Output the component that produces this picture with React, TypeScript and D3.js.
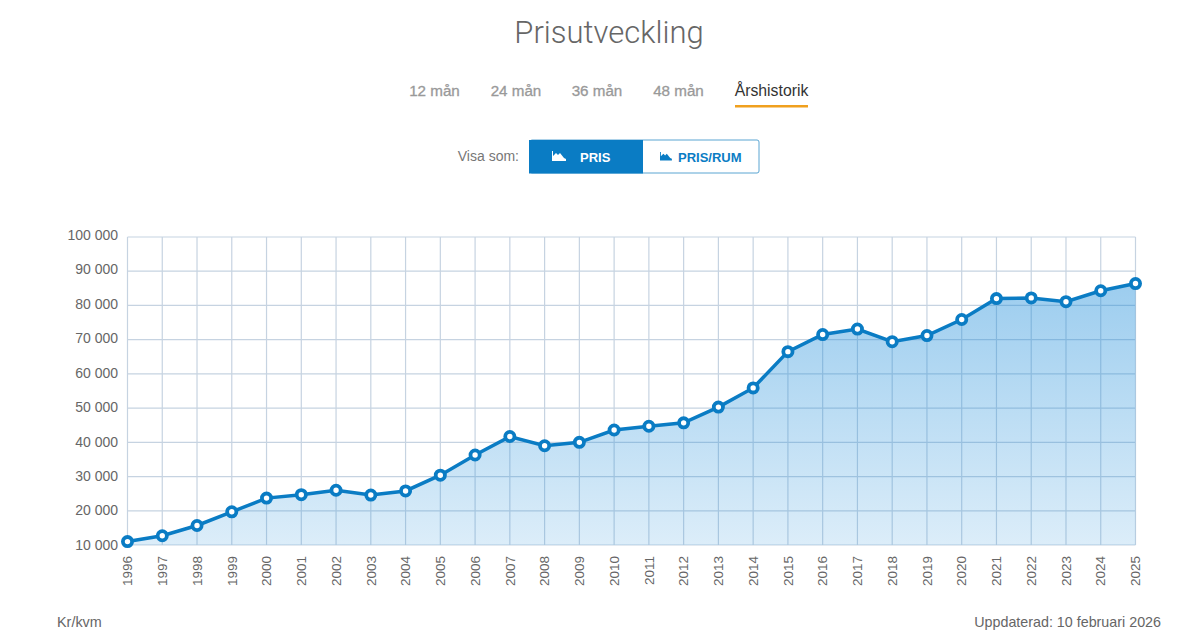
import { useEffect, useRef } from 'react'
import * as d3 from 'd3'

const years = [
	1996, 1997, 1998, 1999, 2000, 2001, 2002, 2003, 2004, 2005, 2006, 2007, 2008, 2009, 2010,
	2011, 2012, 2013, 2014, 2015, 2016, 2017, 2018, 2019, 2020, 2021, 2022, 2023, 2024, 2025,
]
const prices = [
	11000, 12700, 15700, 19700, 23700, 24700, 26000, 24600, 25800, 30400, 36300, 41700, 39000,
	40000, 43600, 44700, 45700, 50300, 55900, 66500, 71500, 73100, 69400, 71200, 75900, 82000,
	82200, 81100, 84300, 86400,
]
const yTicks = [10000, 20000, 30000, 40000, 50000, 60000, 70000, 80000, 90000, 100000]
const tabs = ['12 mån', '24 mån', '36 mån', '48 mån', 'Årshistorik']
const tabCenters = [434.5, 516, 597, 678.5, 771.5]

const font = '"Liberation Sans", Arial, sans-serif'
const blue = '#0a7cc4'

// small area glyph used in the two buttons
const icon = 'M0 10V0h1v5l3-3 2 2 2-2 4 5 2 1v2z'

const App = () => {
	const svgRef = useRef<SVGSVGElement>(null)

	useEffect(() => {
		const svg = d3.select(svgRef.current)
		svg.selectAll('*').remove()

		const x = d3.scaleLinear().domain([1996, 2025]).range([127.5, 1135.5])
		const y = d3.scaleLinear().domain([10000, 100000]).range([545, 237])
		// the tick labels sit a touch wider apart than the grid
		const yLabel = d3.scaleLinear().domain([10000, 100000]).range([545, 235])
		const data = years.map((d, i) => ({ year: d, price: prices[i] }))

		// Gradient below the line
		const grad = svg
			.append('defs')
			.append('linearGradient')
			.attr('id', 'fill')
			.attr('x1', 0)
			.attr('x2', 0)
			.attr('y1', 0)
			.attr('y2', 1)
		grad.append('stop').attr('offset', 0).attr('stop-color', '#1488d8').attr('stop-opacity', 0.42)
		grad.append('stop').attr('offset', 1).attr('stop-color', '#1488d8').attr('stop-opacity', 0.15)

		// Title
		svg
			.append('text')
			.attr('x', 609)
			.attr('y', 43)
			.attr('text-anchor', 'middle')
			.style('font', '300 31px Roboto, sans-serif')
			.style('fill', '#666')
			.text('Prisutveckling')

		// Tabs
		svg
			.selectAll('.tab')
			.data(tabs)
			.enter()
			.append('text')
			.attr('x', (_, i) => tabCenters[i])
			.attr('y', 96)
			.attr('text-anchor', 'middle')
			.style('font', (_, i) => `${i === 4 ? 15.8 : 15.2}px ${font}`)
			.style('fill', (_, i) => (i === 4 ? '#333' : '#999'))
			.style('stroke', (_, i) => (i === 4 ? 'none' : '#999'))
			.style('stroke-width', 0.3)
			.text((d) => d)
		svg
			.append('rect')
			.attr('x', 735)
			.attr('y', 105)
			.attr('width', 73)
			.attr('height', 2.5)
			.attr('fill', '#f0a01e')

		// Buttons
		svg
			.append('text')
			.attr('x', 519)
			.attr('y', 161)
			.attr('text-anchor', 'end')
			.style('font', `14px ${font}`)
			.style('fill', '#777')
			.text('Visa som:')
		svg
			.append('rect')
			.attr('x', 530)
			.attr('y', 140)
			.attr('width', 229)
			.attr('height', 33)
			.attr('rx', 2)
			.attr('fill', '#fff')
			.attr('stroke', '#5aa5d2')
		svg
			.append('rect')
			.attr('x', 529)
			.attr('y', 140)
			.attr('width', 114)
			.attr('height', 33.5)
			.attr('fill', '#0a7cc4')
		svg
			.append('path')
			.attr('d', icon)
			.attr('transform', 'translate(552,151)')
			.attr('fill', '#fff')
		svg
			.append('path')
			.attr('d', icon)
			.attr('transform', 'translate(660,152) scale(0.85)')
			.attr('fill', blue)
		svg
			.append('text')
			.attr('x', 580)
			.attr('y', 161.5)
			.style('font', `bold 13px ${font}`)
			.style('fill', '#fff')
			.text('PRIS')
		svg
			.append('text')
			.attr('x', 678)
			.attr('y', 161.5)
			.style('font', `bold 13px ${font}`)
			.style('fill', blue)
			.text('PRIS/RUM')

		// Grid
		svg
			.selectAll('.gx')
			.data(years)
			.enter()
			.append('line')
			.attr('x1', (d) => x(d))
			.attr('x2', (d) => x(d))
			.attr('y1', y(100000))
			.attr('y2', y(10000))
			.attr('stroke', '#c6d3e1')
			.attr('stroke-width', 1.2)
		svg
			.selectAll('.gy')
			.data(yTicks)
			.enter()
			.append('line')
			.attr('x1', x(1996))
			.attr('x2', x(2025))
			.attr('y1', (d) => y(d))
			.attr('y2', (d) => y(d))
			.attr('stroke', '#c6d3e1')
			.attr('stroke-width', 1.2)

		// Area and line
		const area = d3
			.area<{ year: number; price: number }>()
			.x((d) => x(d.year))
			.y0(y(10000))
			.y1((d) => y(d.price))
		const line = d3
			.line<{ year: number; price: number }>()
			.x((d) => x(d.year))
			.y((d) => y(d.price))
		svg.append('path').datum(data).attr('d', area).attr('fill', 'url(#fill)')
		svg
			.append('path')
			.datum(data)
			.attr('d', line)
			.attr('fill', 'none')
			.attr('stroke', blue)
			.attr('stroke-width', 3.5)
		svg
			.selectAll('.dot')
			.data(data)
			.enter()
			.append('circle')
			.attr('cx', (d) => x(d.year))
			.attr('cy', (d) => y(d.price))
			.attr('r', 4.6)
			.attr('fill', '#fff')
			.attr('stroke', blue)
			.attr('stroke-width', 3.8)

		// Axis labels
		svg
			.selectAll('.ylab')
			.data(yTicks)
			.enter()
			.append('text')
			.attr('x', 118)
			.attr('y', (d) => yLabel(d))
			.attr('dy', '0.35em')
			.attr('text-anchor', 'end')
			.style('font', `14px ${font}`)
			.style('fill', '#666')
			.text((d) => d3.format(',')(d).replace(',', ' '))
		svg
			.selectAll('.xlab')
			.data(years)
			.enter()
			.append('text')
			.attr('transform', (d) => `translate(${x(d)},556) rotate(-90)`)
			.attr('dy', '0.35em')
			.attr('text-anchor', 'end')
			.style('font', `13.5px ${font}`)
			.style('fill', '#666')
			.text((d) => d)

		// Footer
		svg
			.append('text')
			.attr('x', 57)
			.attr('y', 627)
			.style('font', `14.4px ${font}`)
			.style('fill', '#666')
			.text('Kr/kvm')
		svg
			.append('text')
			.attr('x', 1161)
			.attr('y', 627)
			.attr('text-anchor', 'end')
			.style('font', `14.3px ${font}`)
			.style('fill', '#666')
			.text('Uppdaterad: 10 februari 2026')
	}, [])

	return (
		<svg
			ref={svgRef}
			width={1200}
			height={644}
			style={{ position: 'absolute', left: 0, top: 0, background: '#fff' }}
		/>
	)
}

export default App
